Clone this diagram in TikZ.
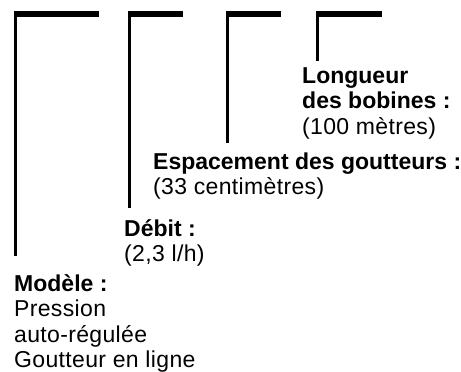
\documentclass[tikz,border=0pt]{standalone}
\usepackage{fontspec}
\setmainfont{Liberation Sans}
\usepackage{tikz}

\tikzset{
  txt/.style = {anchor = base west, inner sep = 0, font = \fontsize{23}{25.5}\selectfont\addfontfeature{LetterSpace=1.5}},
  head/.style = {anchor = base west, inner sep = 0, font = \fontsize{23}{25.5}\selectfont\bfseries},
  bar/.style = {fill = black},
  leg/.style = {line width = 2.6pt}
}

\begin{document}
\begin{tikzpicture}[x = 1pt, y = -1pt]
	\useasboundingbox (0, 0) rectangle (461, 372);
	% bars on top
	\fill[bar] (14, 11) rectangle (99, 17);
	\fill[bar] (128, 11) rectangle (183, 17);
	\fill[bar] (226, 11) rectangle (281, 17);
	\fill[bar] (316, 11) rectangle (382, 17);
	% legs
	\draw[leg] (15.3, 16) -- (15.3, 256);
	\draw[leg] (129.5, 16) -- (129.5, 208);
	\draw[leg] (227.5, 16) -- (227.5, 143);
	\draw[leg] (317.5, 16) -- (317.5, 61);
	% labels
	\node[head] (longueur) at (302, 83) {Longueur};
	\node[head] (bobines) at (302, 108.5) {des bobines :};
	\node[txt] (metres) at (302, 134) {(100 mètres)};
	\node[head] (espacement) at (153, 169) {Espacement des goutteurs :};
	\node[txt] (centimetres) at (153, 194.5) {(33 centimètres)};
	\node[head] (debit) at (124, 236) {Débit :};
	\node[txt] (lh) at (124, 261.5) {(2,3 l/h)};
	\node[head] (modele) at (14, 291) {Modèle :};
	\node[txt] (pression) at (14, 316.5) {Pression};
	\node[txt] (regulee) at (14, 342) {auto-régulée};
	\node[txt] (goutteur) at (14, 367.5) {Goutteur en ligne};
\end{tikzpicture}
\end{document}
